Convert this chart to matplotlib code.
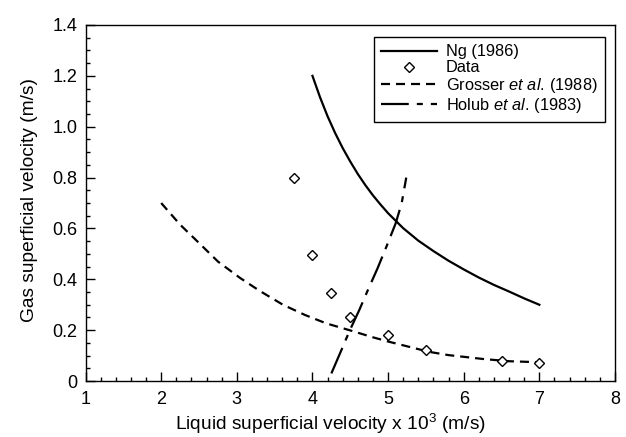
import matplotlib
matplotlib.use("Agg")
import matplotlib.pyplot as plt
from matplotlib.ticker import MultipleLocator, FuncFormatter

plt.rcParams['font.family'] = ['Liberation Sans', 'DejaVu Sans']
plt.rcParams['mathtext.fontset'] = 'custom'
plt.rcParams['mathtext.rm'] = 'Liberation Sans'
plt.rcParams['mathtext.it'] = 'Liberation Sans:italic'
plt.rcParams['lines.scale_dashes'] = False

# Data points
data_x = [3.75, 4.0, 4.25, 4.5, 5.0, 5.5, 6.5, 7.0]
data_y = [0.80, 0.495, 0.347, 0.25, 0.181, 0.122, 0.077, 0.072]

# Ng (1986) curve
ng_x = [4.0, 4.1, 4.2, 4.3, 4.4, 4.5, 4.6, 4.7, 4.8, 4.9, 5.0, 5.2, 5.4,
        5.6, 5.8, 6.0, 6.2, 6.4, 6.6, 6.8, 7.0]
ng_y = [1.20, 1.116, 1.041, 0.975, 0.916, 0.863, 0.814, 0.770, 0.730, 0.694, 0.660,
        0.601, 0.552, 0.511, 0.473, 0.439, 0.407, 0.378, 0.352, 0.325, 0.30]

# Grosser et al. (1988) curve
gr_x = [2.0, 2.25, 2.51, 2.75, 3.04, 3.3, 3.61, 3.9, 4.18, 4.49, 4.8, 5.02,
        5.54, 5.8, 6.25, 6.6, 7.0]
gr_y = [0.70, 0.615, 0.54, 0.47, 0.406, 0.355, 0.30, 0.26, 0.227, 0.20, 0.172,
        0.154, 0.115, 0.102, 0.087, 0.078, 0.074]

# Holub et al. (1983) curve
ho_x = [4.25, 4.38, 4.49, 4.62, 4.73, 4.86, 4.98, 5.10, 5.18, 5.24]
ho_y = [0.03, 0.12, 0.197, 0.28, 0.356, 0.443, 0.53, 0.62, 0.70, 0.80]

x_ticks = [1, 2, 3, 4, 5, 6, 7, 8]
y_ticks = [0, 0.2, 0.4, 0.6, 0.8, 1.0, 1.2, 1.4]

fig = plt.figure(figsize=(6.26, 4.37), dpi=100)
ax = fig.add_axes([0.1367, 0.128, 0.9824 - 0.1367, 0.9428 - 0.128])

ax.plot(ng_x, ng_y, color='black', lw=1.6, label='Ng (1986)')
ax.plot(data_x, data_y, linestyle='none', marker='D', markersize=5.5,
        markerfacecolor='white', markeredgecolor='black', markeredgewidth=1.0,
        label='Data', zorder=5)
ax.plot(gr_x, gr_y, color='black', lw=1.6, dashes=(6.5, 4.3),
        label=r'$\mathrm{Grosser}\ \mathit{et\ al.}\,\mathrm{(1988)}$')
ax.plot(ho_x, ho_y, color='black', lw=1.6, dashes=(20, 5.8, 4.3, 5.8),
        label=r'$\mathrm{Holub}\ \mathit{et\ al.}\,\mathrm{(1983)}$')

ax.set_xlim(1, 8)
ax.set_ylim(0, 1.4)
ax.set_xticks(x_ticks)
ax.set_yticks(y_ticks)
ax.xaxis.set_minor_locator(MultipleLocator(0.2))
ax.yaxis.set_minor_locator(MultipleLocator(0.05))
ax.yaxis.set_major_formatter(FuncFormatter(lambda v, p: '0' if abs(v) < 1e-9 else f'{v:.1f}'))
ax.xaxis.set_major_formatter(FuncFormatter(lambda v, p: f'{int(round(v))}'))

ax.tick_params(which='both', direction='in', top=False, right=False, width=1.0, labelsize=13)
ax.tick_params(which='major', length=6.5)
ax.tick_params(which='minor', length=3)
ax.tick_params(axis='x', pad=7)
ax.tick_params(axis='y', pad=6)
for s in ax.spines.values():
    s.set_linewidth(1.0)

ax.set_xlabel(r'Liquid superficial velocity x 10$^3$ (m/s)', fontsize=13.8)
ax.xaxis.set_label_coords(0.462, -0.088)
ax.set_ylabel('Gas superficial velocity (m/s)', fontsize=13.8)
ax.yaxis.set_label_coords(-0.09, 0.508)

leg = ax.legend(loc='upper right', bbox_to_anchor=(0.981, 0.966), borderaxespad=0,
                fontsize=11.8, frameon=True, fancybox=False, edgecolor='black',
                framealpha=1, handlelength=3.4, handletextpad=0.55,
                labelspacing=0.05, borderpad=0.45)
leg.get_frame().set_linewidth(1.0)

fig.savefig('out.png', dpi=100)
